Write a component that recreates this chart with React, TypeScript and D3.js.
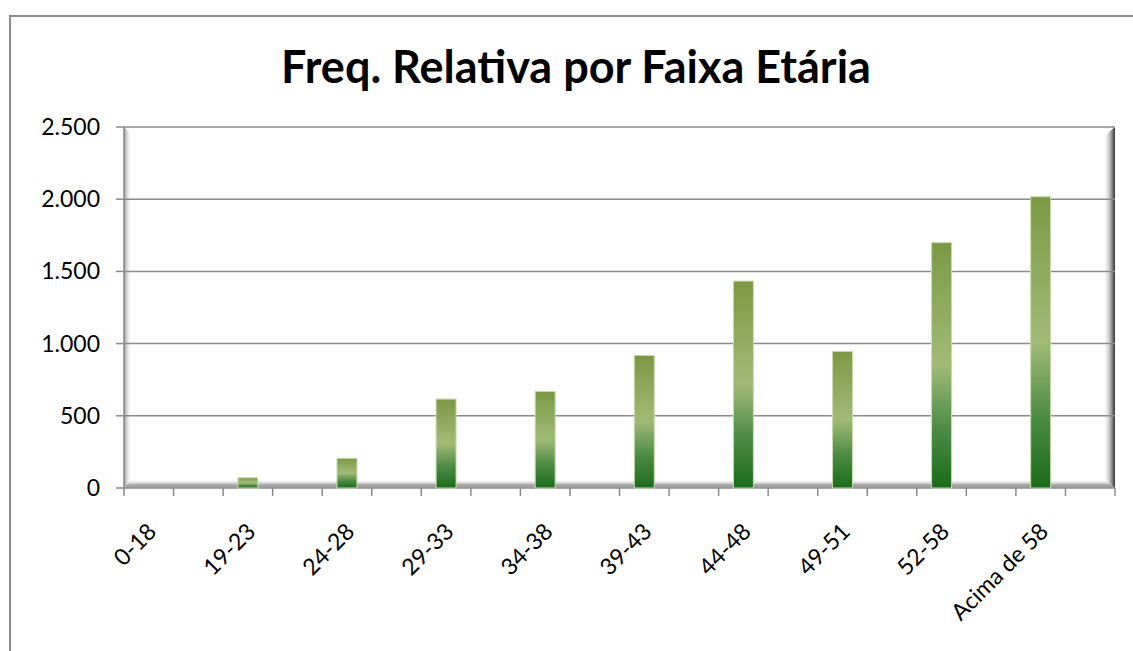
import React, { useRef, useEffect } from "react";
import * as d3 from "d3";

const categories = ["0-18", "19-23", "24-28", "29-33", "34-38", "39-43", "44-48", "49-51", "52-58", "Acima de 58"];
const values = [0, 71, 206, 616, 669, 918, 1433, 946, 1699, 2017];
const yTicks = [0, 500, 1000, 1500, 2000, 2500];
const title = "Freq. Relativa por Faixa Etária";

const W = 1133;
const H = 651;
const plot = { left: 124, right: 1115, top: 127, bottom: 488 };
const font = "Lato, 'Open Sans', sans-serif";

const ptBR = d3.formatLocale({ decimal: ",", thousands: ".", grouping: [3], currency: ["R$", ""] });
const fmt = ptBR.format(",d");

export default function App() {
  const svgRef = useRef<SVGSVGElement>(null);

  useEffect(() => {
    const svg = d3.select(svgRef.current);
    svg.selectAll("*").remove();

    const x = d3.scaleBand<string>().domain(categories).range([plot.left, plot.right]);
    const y = d3.scaleLinear().domain([0, 2500]).range([plot.bottom, plot.top]);
    const bw = x.bandwidth();

    const defs = svg.append("defs");
    const barGrad = defs.append("linearGradient").attr("id", "barGrad")
      .attr("x1", 0).attr("y1", 0).attr("x2", 0).attr("y2", 1);
    [["0", "#7b9944"], ["0.5", "#a1bb77"], ["0.75", "#4f8c46"], ["1", "#1a6c1a"]].forEach(([o, c]) =>
      barGrad.append("stop").attr("offset", o).attr("stop-color", c));

    const mk = (id: string, x1: number, y1: number, x2: number, y2: number, stops: [string, string, number][]) => {
      const g = defs.append("linearGradient").attr("id", id)
        .attr("x1", x1).attr("y1", y1).attr("x2", x2).attr("y2", y2);
      stops.forEach(([o, c, a]) => g.append("stop").attr("offset", o).attr("stop-color", c).attr("stop-opacity", a));
    };
    mk("shL", 0, 0, 1, 0, [["0", "#999", 1], ["1", "#fff", 0]]);
    mk("shB", 0, 1, 0, 0, [["0", "#bbb", 1], ["0.3", "#999", 1], ["1", "#fff", 0]]);
    mk("shR", 1, 0, 0, 0, [["0", "#333", 1], ["0.25", "#888", 1], ["1", "#fff", 0]]);

    // outer frame
    svg.append("rect").attr("x", 10).attr("y", 16).attr("width", W + 20).attr("height", H + 20)
      .attr("fill", "#fff").attr("stroke", "#8c8c8c").attr("stroke-width", 2);

    // title
    svg.append("text").attr("x", 576).attr("y", 83).attr("text-anchor", "middle")
      .attr("font-family", font).attr("font-weight", "bold").attr("font-size", 45)
      .attr("fill", "#000").text(title);

    // plot area inner shadow
    const { left: L, right: R, top: T, bottom: B } = plot;
    svg.append("polygon").attr("points", `${L},${T} ${L + 8},${T + 8} ${L + 8},${B - 8} ${L},${B}`).attr("fill", "url(#shL)");
    svg.append("polygon").attr("points", `${L},${B} ${L + 8},${B - 9} ${R - 12},${B - 9} ${R},${B}`).attr("fill", "url(#shB)");
    svg.append("polygon").attr("points", `${R},${T} ${R - 12},${T + 10} ${R - 12},${B - 9} ${R},${B}`).attr("fill", "url(#shR)");

    // gridlines
    svg.append("g").selectAll("line").data(yTicks).join("line")
      .attr("x1", L).attr("x2", R).attr("y1", (d) => y(d)).attr("y2", (d) => y(d))
      .attr("stroke", "#8a8a8a").attr("stroke-width", 1.5);

    // y axis
    svg.append("line").attr("x1", L).attr("x2", L).attr("y1", T).attr("y2", B).attr("stroke", "#8a8a8a").attr("stroke-width", 1.5);
    svg.append("g").selectAll("line").data(yTicks).join("line")
      .attr("x1", L - 8).attr("x2", L).attr("y1", (d) => y(d)).attr("y2", (d) => y(d))
      .attr("stroke", "#8a8a8a").attr("stroke-width", 1.5);
    svg.append("g").selectAll("text").data(yTicks).join("text")
      .attr("x", 100).attr("y", (d) => y(d)).attr("dy", "0.35em").attr("text-anchor", "end")
      .attr("font-family", font).attr("font-size", 23).attr("fill", "#000")
      .text((d) => fmt(d));

    // bars
    svg.append("g").selectAll("rect").data(values).join("rect")
      .attr("x", (d, i) => x(categories[i])! + bw * 0.25 - 10)
      .attr("width", 20)
      .attr("y", (d) => y(d))
      .attr("height", (d) => y(0) - y(d))
      .attr("fill", "url(#barGrad)")
      .attr("stroke", (d) => (d > 0 ? "#c9dcae" : "none"))
      .attr("stroke-width", 1);

    // x axis
    const xt: number[] = [];
    categories.forEach((c) => { xt.push(x(c)!); xt.push(x(c)! + bw / 2); });
    xt.push(R);
    svg.append("g").selectAll("line").data(xt).join("line")
      .attr("x1", (d) => d).attr("x2", (d) => d).attr("y1", B).attr("y2", B + 8)
      .attr("stroke", "#8a8a8a").attr("stroke-width", 1.5);
    svg.append("g").selectAll("text").data(categories).join("text")
      .attr("transform", (c) => `translate(${x(c)! + bw * 0.25 + 9},${B + 45}) rotate(-45)`)
      .attr("text-anchor", "end")
      .attr("font-family", font).attr("font-size", 23).attr("fill", "#000")
      .text((c) => c);
  }, []);

  return (
    <svg ref={svgRef} width={W} height={H} style={{ position: "absolute", left: 0, top: 0, background: "#fff" }} />
  );
}
